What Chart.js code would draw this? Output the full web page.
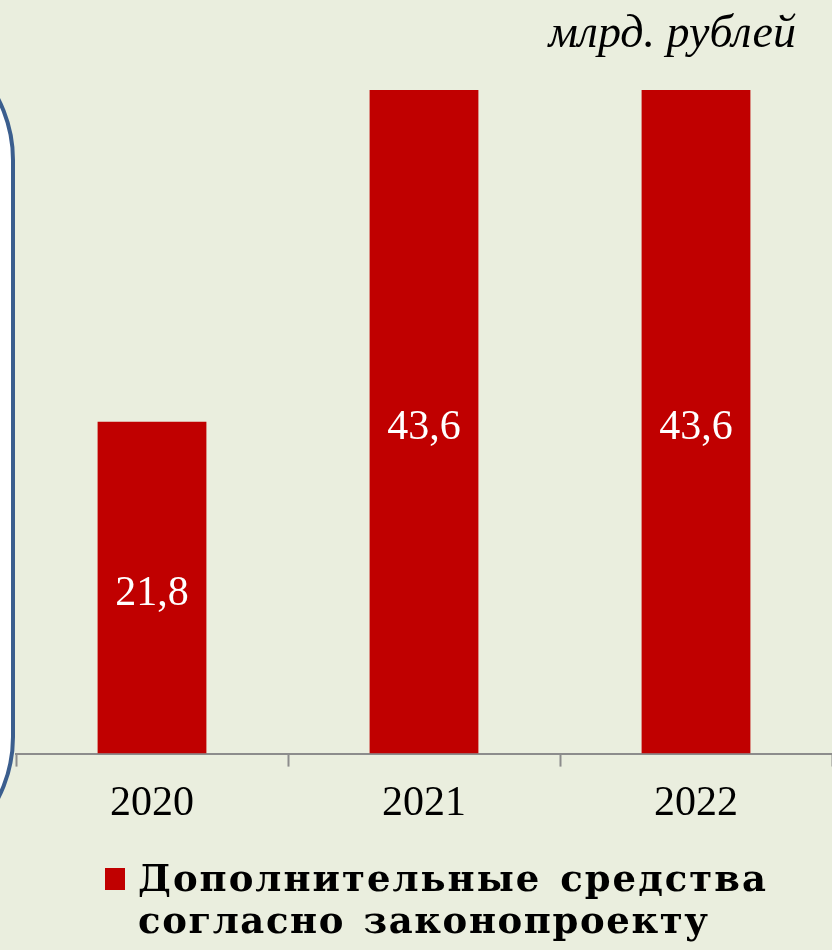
<!DOCTYPE html>
<html>
<head>
<meta charset="utf-8">
<script src="https://cdn.jsdelivr.net/npm/chart.js@4/dist/chart.umd.min.js"></script>
<style>
  html, body { margin: 0; padding: 0; }
  body { width: 832px; height: 950px; background: #eaeede; position: relative; overflow: hidden; }
  .frame {
    position: absolute; left: -300px; top: 25px; width: 315px; height: 847px;
    box-sizing: border-box; border: 4px solid #3b5e8e; border-radius: 135px; background: #fff;
  }
  #chart { position: absolute; left: 0; top: 0; }
  .unit {
    position: absolute; right: 36px; top: 5px;
    font: italic 46px "Liberation Serif", serif; color: #000;
  }
  .legend {
    position: absolute; left: 105px; top: 857px;
    font: bold 37px "DejaVu Serif", serif; color: #000; line-height: 42px;
  }
  .legend .box { position: absolute; left: 0; top: 11px; width: 20px; height: 22px; background: #c00000; }
  .legend .txt { margin-left: 33px; letter-spacing: 2px; word-spacing: 4px; }
  .legend .l2 { letter-spacing: 1.6px; }
</style>
</head>
<body>
<div class="frame"></div>
<canvas id="chart" width="832" height="950"></canvas>
<div class="unit">млрд. рублей</div>
<div class="legend"><span class="box"></span><div class="txt">Дополнительные средства<br><span class="l2">согласно законопроекту</span></div></div>
<script>
const years = ['2020', '2021', '2022'];
const extraFunds = [21.8, 43.6, 43.6];
const seriesName = 'Дополнительные средства согласно законопроекту';

// value labels inside the bars
const valueLabels = {
  id: 'valueLabels',
  afterDatasetsDraw(chart) {
    const ctx = chart.ctx;
    const meta = chart.getDatasetMeta(0);
    ctx.save();
    ctx.fillStyle = '#fff';
    ctx.font = '42px "Liberation Serif", serif';
    ctx.textAlign = 'center';
    ctx.textBaseline = 'middle';
    meta.data.forEach((bar, i) => {
      const p = bar.getProps(['x', 'y', 'base'], true);
      ctx.fillText(String(extraFunds[i]).replace('.', ','), p.x, (p.y + p.base) / 2 + 6);
    });
    ctx.restore();
  }
};

new Chart(document.getElementById('chart').getContext('2d'), {
  type: 'bar',
  data: {
    labels: years,
    datasets: [{
      label: seriesName,
      data: extraFunds,
      backgroundColor: '#c00000',
      barPercentage: 0.8,
      categoryPercentage: 0.5,
    }],
  },
  options: {
    responsive: false,
    animation: false,
    layout: { padding: { top: 90, left: 16, right: 0, bottom: 109 } },
    plugins: { legend: { display: false }, tooltip: { enabled: false }, title: { display: false } },
    scales: {
      y: { display: false, min: 0, max: 43.6 },
      x: {
        border: { color: '#8c8c8c', width: 2 },
        grid: { offset: true, drawOnChartArea: false, tickLength: 13, tickWidth: 2, color: '#8c8c8c' },
        ticks: { color: '#000', padding: 12, font: { family: '"Liberation Serif", serif', size: 42 } },
      },
    },
  },
  plugins: [valueLabels],
});
</script>
</body>
</html>
